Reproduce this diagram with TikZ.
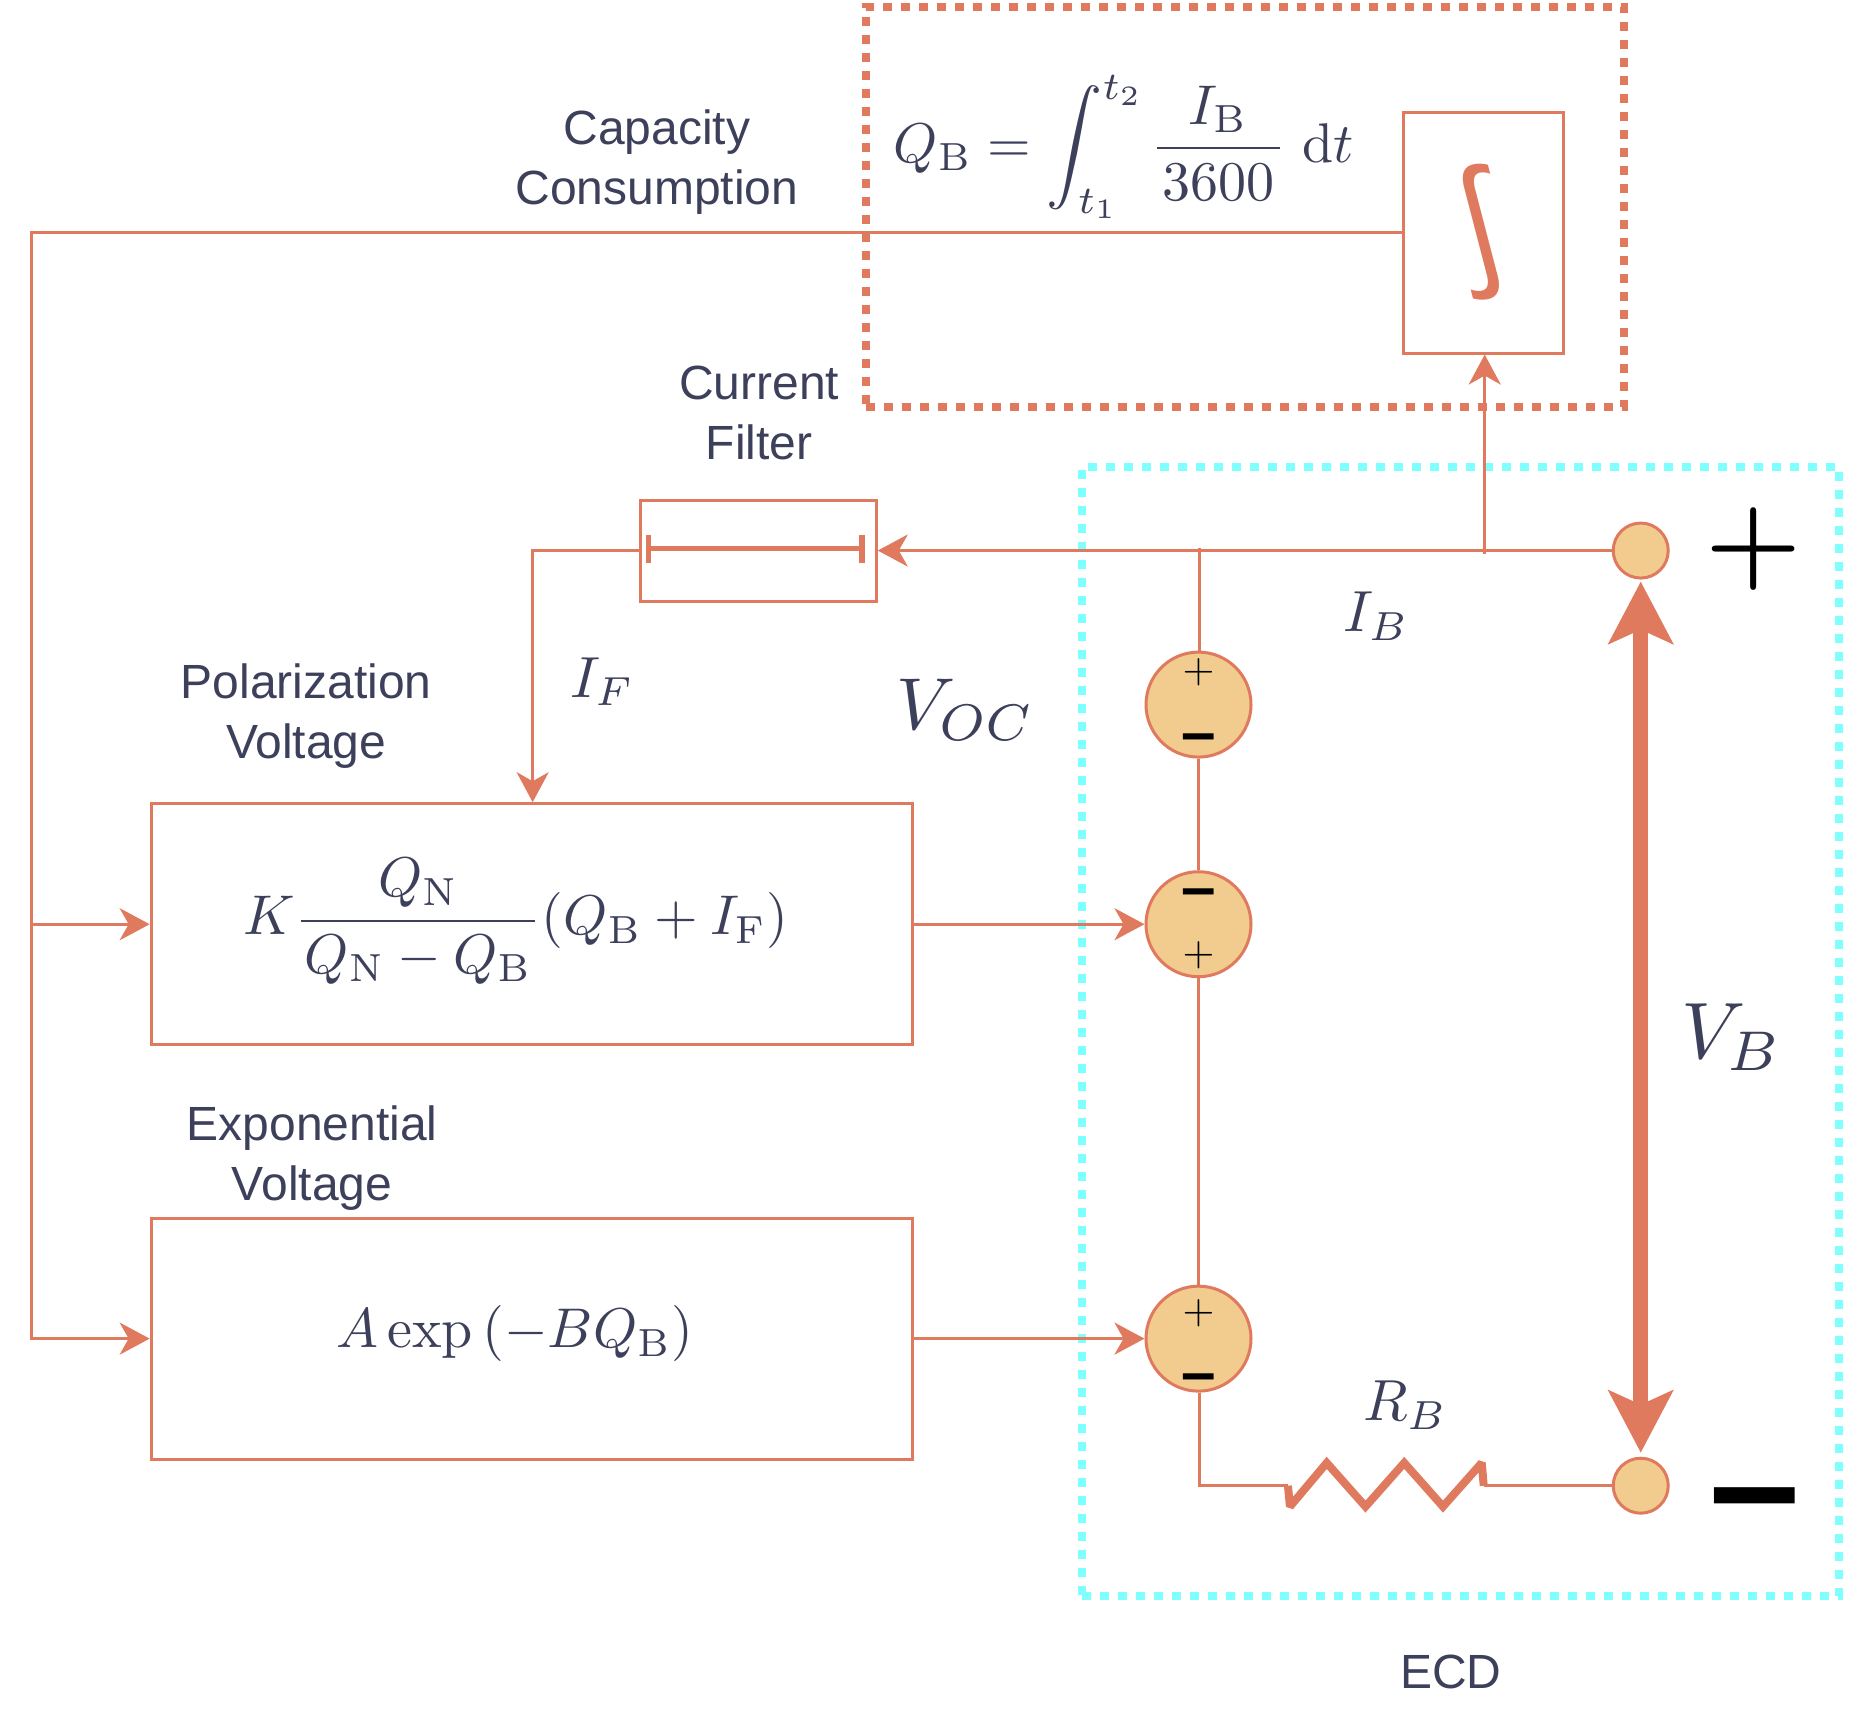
\documentclass[tikz,border=0pt]{standalone}
\usepackage[no-math]{fontspec}
\usetikzlibrary{arrows.meta}
\newfontfamily\sansfont{Liberation Sans}
\newfontfamily\symbfont{Open Sans}
\definecolor{corail}{HTML}{E07A5F}
\definecolor{sable}{HTML}{F2CC8F}
\definecolor{encre}{HTML}{3D405B}
\definecolor{cyanclair}{HTML}{80FFFF}
\begin{document}
\begin{tikzpicture}[x=.9938pt, y=-.9938pt]
  \tikzstyle{bloc}=[draw=corail, line width=3pt, inner sep=0, fill=white];
  \tikzstyle{cadre}=[draw, line width=8pt, dash pattern=on 9pt off 9pt, inner sep=0];
  \tikzstyle{source}=[circle, draw=corail, fill=sable, line width=3pt, minimum size=105pt, inner sep=0];
  \tikzstyle{borne}=[circle, draw=corail, fill=sable, line width=3pt, minimum size=55pt, inner sep=0];
  \tikzstyle{fil}=[draw=corail, line width=3pt];
  \tikzstyle{fleche}=[fil, -{Stealth[length=30pt, width=32pt, inset=9pt]}];
  \tikzstyle{titre}=[text=encre, align=center, font=\sansfont\fontsize{48}{60}\selectfont];
  \tikzstyle{formule}=[text=encre, scale=5.6];
  \tikzstyle{grandeur}=[text=encre, scale=5.8];
  \tikzstyle{ddp}=[text=encre, scale=8];
  \tikzstyle{signep}=[text=black, inner sep=0, scale=4.1];
  \tikzstyle{signem}=[text=black, inner sep=0, font=\sansfont\bfseries\fontsize{62}{62}\selectfont];

  \useasboundingbox (0, 0) rectangle (1881.7, 1738.8);

  \node[cadre, draw=cyanclair, minimum width=757pt, minimum height=1129pt] (ecd) at (1470, 1037.5) {};
  \node[cadre, draw=corail, minimum width=758pt, minimum height=400pt] (calcul) at (1252.5, 208) {};

  \node[bloc, minimum width=160pt, minimum height=241pt] (integ) at (1493, 234) {};
  \node[bloc, minimum width=236pt, minimum height=101pt] (filtre) at (763, 554) {};
  \node[bloc, minimum width=761pt, minimum height=241pt] (pol) at (535, 930) {};
  \node[bloc, minimum width=761pt, minimum height=241pt] (expo) at (535, 1347) {};

  \node[source] (s1) at (1206, 709) {};
  \node[source] (s2) at (1206, 930) {};
  \node[source] (s3) at (1206, 1347) {};
  \node[borne] (bp) at (1651, 554) {};
  \node[borne] (bm) at (1651, 1495) {};

  \coordinate (bh) at (32, 234);
  \coordinate (bus) at (32, 930);
  \coordinate (coude) at (536, 554);
  \coordinate (jonc) at (1207, 551);
  \coordinate (deriv) at (1494, 557);
  \coordinate (r1) at (1296, 1495);
  \coordinate (r2) at (1493, 1495);

  \draw[fleche] (integ.west) -- (bh) |- (expo);
  \draw[fleche] (bus) -- (pol);
  \draw[fleche] (bp) -- (filtre);
  \draw[fleche] (deriv) -- (integ.south -| deriv);
  \draw[fleche] (filtre.west |- coude) -- (coude) -- (pol.north -| coude);
  \draw[fleche] (pol) -- (s2);
  \draw[fleche] (expo) -- (s3);
  \draw[fil] (jonc) -- (s1.north -| jonc);
  \draw[fil] (s1) -- (s2);
  \draw[fil] (s2) -- (s3);
  \draw[fil] (s3.south -| jonc) |- (r1);
  \draw[fil] (r2) -- (bm);

  % resistance
  \draw[corail, line width=8pt, miter limit=2] (r1) -- ++(2, 21) -- ++(37, -44) -- ++(39, 44) -- ++(39, -44) -- ++(39, 44) -- ++(39, -44) -- (r2);

  % filtre
  \draw[corail, line width=5.5pt, {Bar[width=28pt]}-{Bar[width=28pt]}] (650, 552) -- (870, 552);

  \draw[corail, {Stealth[length=62pt, width=64pt, inset=14pt]}-{Stealth[length=62pt, width=64pt, inset=14pt]}, line width=15pt, shorten <=2pt, shorten >=4pt] (bp) -- (bm);

  \node[text=corail, font=\symbfont\fontsize{136}{136}\selectfont, xslant=-.26] (signe) at (1491, 234) {∫};

  \node[signep] (p1) at (1206, 676) {$+$};
  \node[signem] (m1) at (1206, 748) {–};
  \node[signem] (m2) at (1206, 904) {–};
  \node[signep] (p2) at (1206, 961) {$+$};
  \node[signep] (p3) at (1206, 1321) {$+$};
  \node[signem] (m3) at (1206, 1392) {–};
  \node[text=black, inner sep=0, font=\bfseries\fontsize{110}{110}\selectfont] (gp) at (1765, 552) {+};
  \node[signem, font=\sansfont\bfseries\fontsize{163}{163}\selectfont] (gm) at (1766, 1523) {–};

  \node[titre] (t1) at (661, 163) {Capacity\\Consumption};
  \node[titre] (t2) at (764, 416) {Current\\Filter};
  \node[titre] (t3) at (308, 721) {Polarization\\Voltage};
  \node[titre] (t4) at (314, 1165) {Exponential\\Voltage};
  \node[titre] (t5) at (1460, 1682) {ECD};

  \node[formule] (f1) at (1131, 148) {$\displaystyle Q_{\mathrm{B}}=\int_{t_1}^{t_2}\mkern-1.3mu\frac{I_{\mathrm{B}}}{\hspace{1pt}3600\hspace{1pt}}\mkern2.2mu\,\mathrm{d}t$};
  \node[formule] (f2) at (519, 927) {$\displaystyle K\frac{Q_{\mathrm{N}}}{\hspace{.6pt}Q_{\mathrm{N}}-Q_{\mathrm{B}}\hspace{.6pt}}\mkern-3mu\left(Q_{\mathrm{B}}+I_{\mathrm{F}}\right)$};
  \node[formule] (f3) at (518, 1342) {$\displaystyle A\exp\left(-BQ_{\mathrm{B}}\right)$};

  \node[grandeur] (ib) at (1385, 620) {$I_B$};
  \node[grandeur] (if) at (606, 686) {$I_F$};
  \node[grandeur] (rb) at (1414, 1414) {$R_B$};
  \node[ddp, scale=.92] (voc) at (972, 714) {$V_{OC}$};
  \node[ddp] (vb) at (1743, 1044) {$V_B$};
\end{tikzpicture}
\end{document}
